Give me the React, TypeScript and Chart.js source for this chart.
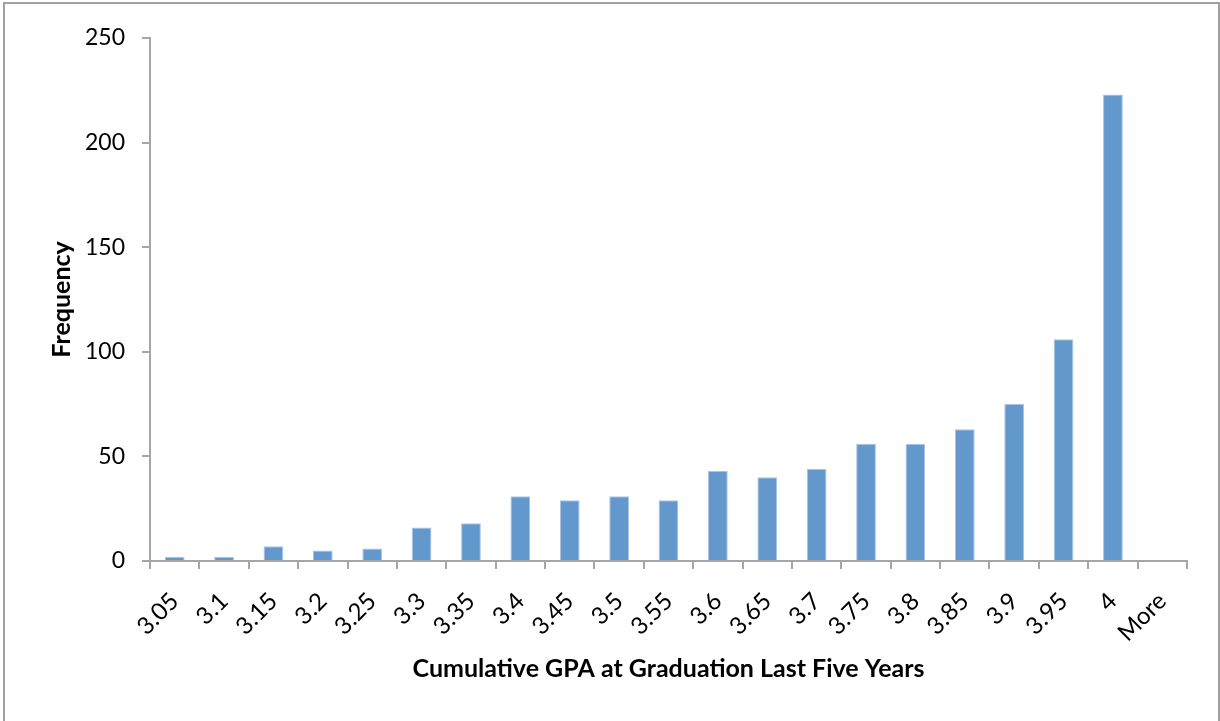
import React, { useEffect, useRef } from "react";
import { Chart, registerables } from "chart.js";

Chart.register(...registerables);

const categories = ["3.05","3.1","3.15","3.2","3.25","3.3","3.35","3.4","3.45","3.5","3.55","3.6","3.65","3.7","3.75","3.8","3.85","3.9","3.95","4","More"];
const frequency = [2,2,7,5,6,16,18,31,29,31,29,43,40,44,56,56,63,75,106,223,0];
const yTicks = [0,50,100,150,200,250];

const AXIS = "#a6a6a6";
const BAR = "#6298cc";
const FONT = "Lato, 'Open Sans', sans-serif";

const framePlugin = {
  id: "frame",
  afterDraw(chart: any) {
    const ctx = chart.ctx;
    const area = chart.chartArea;
    ctx.save();
    ctx.strokeStyle = "#a0a0a0";
    ctx.lineWidth = 2;
    ctx.strokeRect(4, 3, 1215, 740);
    // final category boundary tick
    ctx.strokeStyle = AXIS;
    ctx.lineWidth = 2;
    ctx.beginPath();
    ctx.moveTo(area.right, area.bottom);
    ctx.lineTo(area.right, area.bottom + 8);
    ctx.stroke();
    ctx.restore();
  },
};

export default function App() {
  const ref = useRef<HTMLCanvasElement>(null);
  useEffect(() => {
    const chart = new Chart(ref.current!, {
      type: "bar",
      data: {
        labels: categories,
        datasets: [
          {
            data: frequency,
            backgroundColor: BAR,
            borderColor: "#a9c4e4",
            borderWidth: 1,
            barPercentage: 0.4,
            categoryPercentage: 1,
          },
        ],
      },
      plugins: [framePlugin],
      options: {
        animation: false,
        responsive: false,
        layout: { padding: { left: 0, top: 38, right: 33, bottom: 0 } },
        plugins: { legend: { display: false }, tooltip: { enabled: false } },
        scales: {
          x: {
            afterFit: (s: any) => { s.height = 160; },
            grid: { display: true, drawOnChartArea: false, drawTicks: true, tickLength: 8, color: AXIS, lineWidth: 2, offset: true },
            border: { display: true, color: AXIS, width: 2 },
            ticks: { maxRotation: 45, minRotation: 45, color: "#000", font: { family: FONT, size: 24 }, padding: 18, autoSkip: false },
            title: { display: true, text: "Cumulative GPA at Graduation Last Five Years", color: "#000", font: { family: FONT, size: 25, weight: "bold" }, padding: { top: 0, bottom: 37 } },
          },
          y: {
            min: 0,
            max: 250,
            afterFit: (s: any) => { s.width = 150; },
            afterBuildTicks: (s: any) => { s.ticks = yTicks.map((v) => ({ value: v })); },
            grid: { display: true, drawOnChartArea: false, drawTicks: true, tickLength: 8, color: AXIS, lineWidth: 2 },
            border: { display: true, color: AXIS, width: 2 },
            ticks: { color: "#000", font: { family: FONT, size: 23 }, padding: 17 },
            title: { display: true, text: "Frequency", color: "#000", font: { family: FONT, size: 25, weight: "bold" }, padding: { top: 47, bottom: 0 } },
          },
        },
      },
    });
    return () => chart.destroy();
  }, []);
  return (
    <div style={{ position: "fixed", left: 0, top: 0, width: 1220, height: 721, background: "#fff" }}>
      <canvas ref={ref} width={1220} height={721} style={{ width: 1220, height: 721, display: "block" }} />
    </div>
  );
}
